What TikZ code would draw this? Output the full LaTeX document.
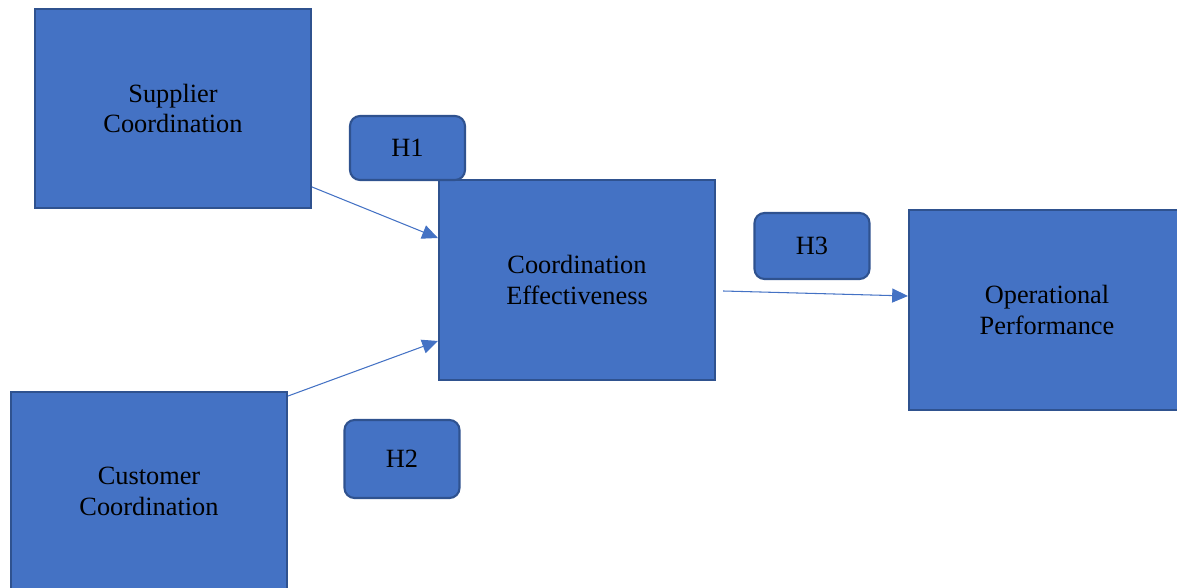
\documentclass[tikz,border=0pt]{standalone}
\usepackage{fontspec}
\setmainfont{Liberation Serif}
\usetikzlibrary{arrows.meta, positioning}
\definecolor{boxblue}{HTML}{4472C4}
\definecolor{edgeblue}{HTML}{2F528F}

\begin{document}
\begin{tikzpicture}[x=0.02cm, y=0.02cm, >={Triangle[length=9pt, width=8pt]}]
	\tikzstyle{construct} = [draw=edgeblue, fill=boxblue, line width=1.2pt, rectangle, minimum width=5.52cm, minimum height=3.98cm, inner sep=0pt, align=center, font=\fontsize{15}{17.6}\selectfont]
	\tikzstyle{hypo} = [draw=edgeblue, fill=boxblue, line width=1.2pt, rectangle, rounded corners=0.2cm, minimum width=2.3cm, inner sep=0pt, font=\fontsize{15}{17.6}\selectfont]
	\tikzstyle{link} = [->, boxblue, line width=0.6pt]

	\useasboundingbox (0,0) rectangle (1177,588);

	% constructs
	\node[construct] (sup) at (173,479.5) {Supplier\\Coordination};
	\node[construct] (cust) at (149,96.5) {Customer\\Coordination};
	\node[construct, minimum height=4cm] (eff) at (577,308) {Coordination\\Effectiveness};
	\node[construct, minimum height=4cm] (ops) at (1047,278) {Operational\\Performance};

	% hypotheses
	\node[hypo, minimum height=1.28cm] (h1) at (407.5,440) {H1};
	\node[hypo, minimum height=1.56cm] (h2) at (402,129) {H2};
	\node[hypo, minimum height=1.32cm] (h3) at (812,342) {H3};

	\path[link]
		([yshift=-1.57cm]sup.east) edge ([yshift=0.84cm]eff.west)
		([yshift=1.91cm]cust.east) edge ([yshift=-1.22cm]eff.west)
		([xshift=0.14cm, yshift=-0.22cm]eff.east) edge ([yshift=0.28cm]ops.west)
	;
\end{tikzpicture}
\end{document}
